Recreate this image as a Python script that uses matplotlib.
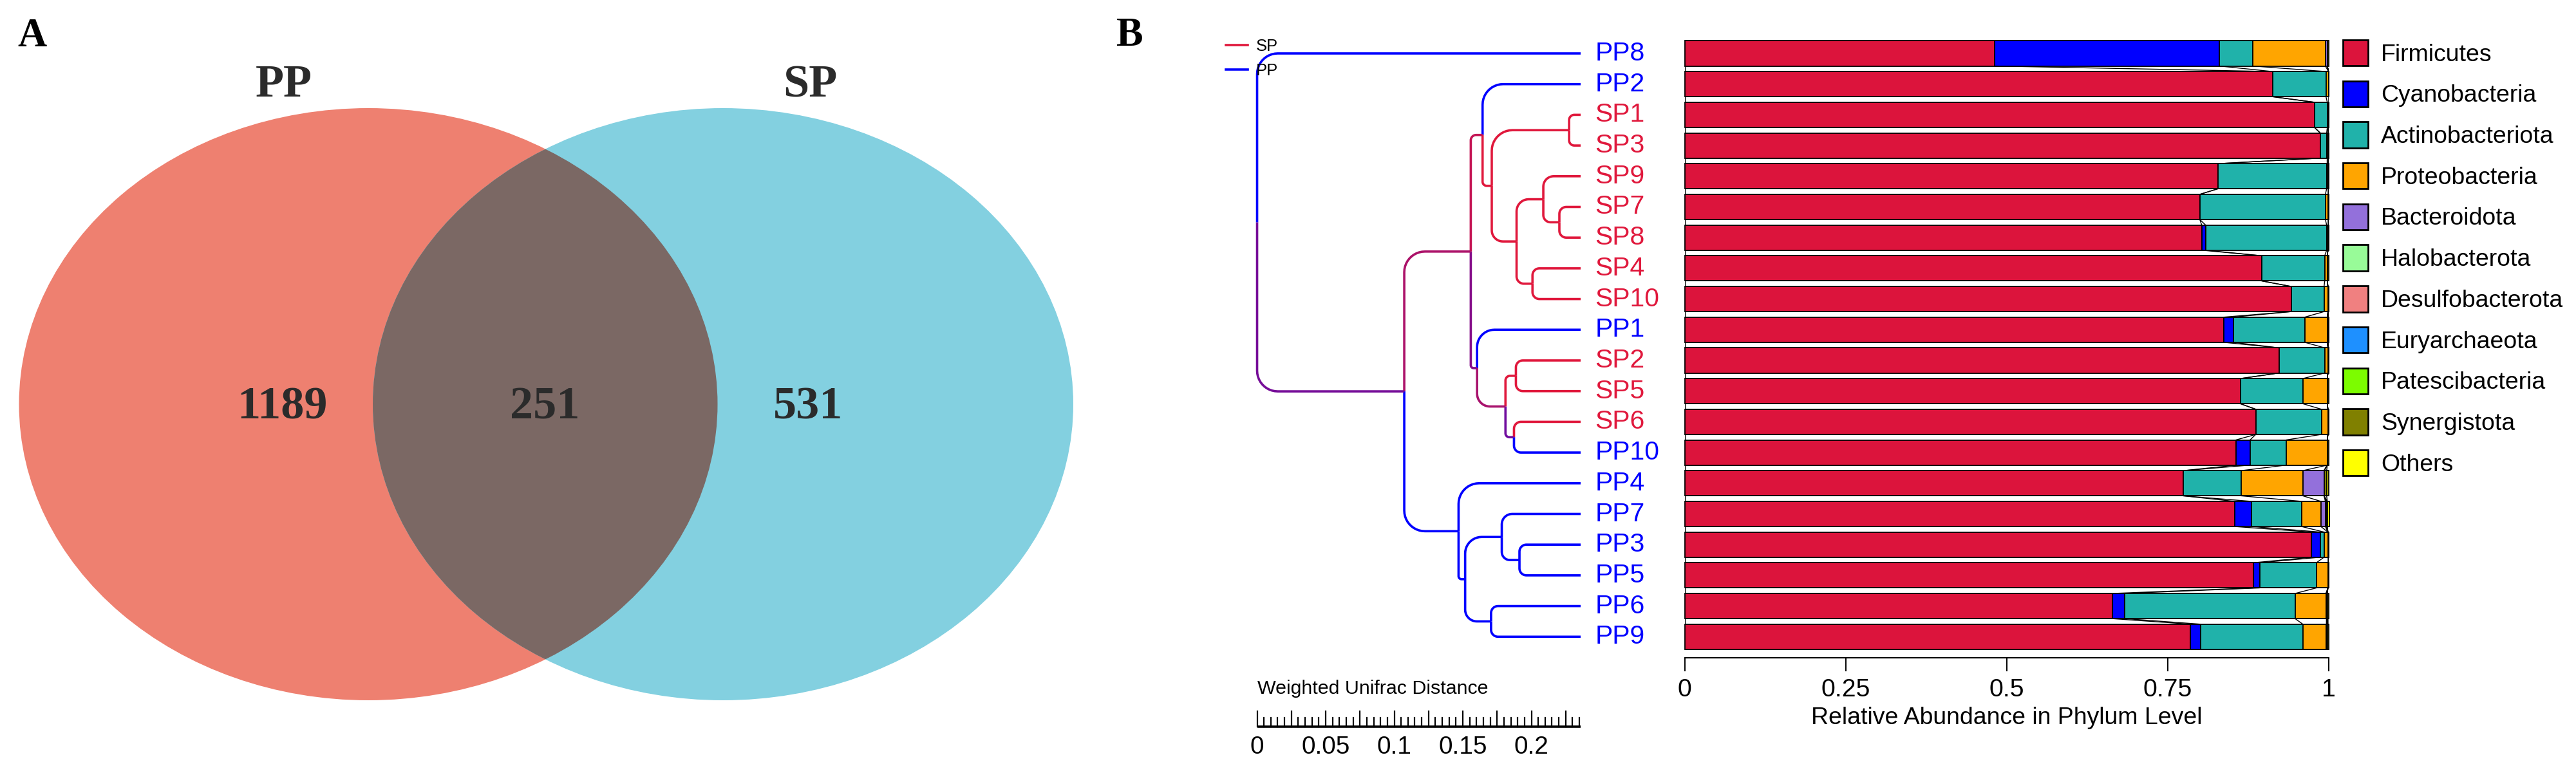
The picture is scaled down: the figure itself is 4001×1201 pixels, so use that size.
import numpy as np
import matplotlib
matplotlib.use('Agg')
import matplotlib.pyplot as plt
from matplotlib.patches import Ellipse
from matplotlib.lines import Line2D
from matplotlib.collections import LineCollection
from matplotlib import font_manager

# ---------------------------------------------------------------------------
# fonts
# ---------------------------------------------------------------------------
installed = {f.name for f in font_manager.fontManager.ttflist}
narrow = 'Liberation Sans Narrow' if 'Liberation Sans Narrow' in installed else 'Liberation Sans'
plt.rcParams['font.family'] = [narrow, 'DejaVu Sans']
serif_bold = dict(family=['Liberation Serif', 'DejaVu Serif'], fontweight='bold')
# the reference uses a condensed sans; without it, shrink sizes so widths match
has_narrow = narrow.endswith('Narrow')


def fsz(size, scale):
    return size if has_narrow else size * scale


# ---------------------------------------------------------------------------
# data - panel A (Venn)
# ---------------------------------------------------------------------------
venn_sets = ['PP', 'SP']
only_pp = 1189
shared = 251
only_sp = 531

# ---------------------------------------------------------------------------
# data - panel B (tree on weighted unifrac + phylum composition)
# ---------------------------------------------------------------------------
leaf_names = ['PP8', 'PP2', 'SP1', 'SP3', 'SP9', 'SP7', 'SP8', 'SP4', 'SP10', 'PP1',
              'SP2', 'SP5', 'SP6', 'PP10', 'PP4', 'PP7', 'PP3', 'PP5', 'PP6', 'PP9']

# merges: children are leaf index (<20) or merge index + 20
merge_left = [2, 5, 4, 7, 22, 20, 1, 10, 12, 27, 9, 26, 16, 15, 18, 33, 14, 31, 0]
merge_right = [3, 6, 21, 8, 23, 24, 25, 11, 13, 28, 29, 30, 17, 32, 19, 34, 35, 36, 37]
merge_height = [0.0084, 0.0155, 0.0272, 0.0351, 0.0467, 0.0648, 0.0715, 0.0472, 0.0486,
                0.0548, 0.0755, 0.0801, 0.0446, 0.0575, 0.0653, 0.0842, 0.0890, 0.1286,
                0.2359]

phyla = ['Firmicutes', 'Cyanobacteria', 'Actinobacteriota', 'Proteobacteria', 'Bacteroidota',
         'Halobacterota', 'Desulfobacterota', 'Euryarchaeota', 'Patescibacteria',
         'Synergistota', 'Others']
phyla_colors = ['#DC143C', '#0000FF', '#20B2AA', '#FFA500', '#9370DB', '#98FB98',
                '#F08080', '#1E90FF', '#7CFC00', '#808000', '#FFFF00']

firmicutes = [0.481, 0.913, 0.978, 0.987, 0.828, 0.800, 0.803, 0.896, 0.942, 0.837,
              0.923, 0.863, 0.887, 0.856, 0.774, 0.854, 0.973, 0.883, 0.664, 0.785]
cyanobacteria = [0.349, 0.000, 0.000, 0.000, 0.000, 0.000, 0.006, 0.000, 0.000, 0.015,
                 0.000, 0.000, 0.000, 0.022, 0.000, 0.026, 0.014, 0.010, 0.019, 0.016]
actinobacteriota = [0.052, 0.083, 0.020, 0.010, 0.169, 0.195, 0.188, 0.098, 0.051, 0.111,
                    0.071, 0.097, 0.102, 0.056, 0.090, 0.078, 0.006, 0.088, 0.265, 0.159]
proteobacteria = [0.113, 0.004, 0.002, 0.002, 0.002, 0.004, 0.002, 0.004, 0.006, 0.035,
                  0.005, 0.038, 0.010, 0.064, 0.096, 0.030, 0.006, 0.018, 0.048, 0.036]
bacteroidota = [0.003, 0.000, 0.000, 0.000, 0.000, 0.000, 0.000, 0.000, 0.000, 0.000,
                0.000, 0.000, 0.000, 0.000, 0.033, 0.007, 0.000, 0.000, 0.000, 0.000]
halobacterota = [0.000, 0.000, 0.000, 0.000, 0.000, 0.000, 0.000, 0.000, 0.000, 0.000,
                 0.000, 0.000, 0.000, 0.000, 0.000, 0.001, 0.000, 0.000, 0.001, 0.001]
desulfobacterota = [0.000, 0.000, 0.000, 0.000, 0.000, 0.000, 0.000, 0.000, 0.000, 0.001,
                    0.000, 0.000, 0.000, 0.000, 0.000, 0.001, 0.000, 0.000, 0.001, 0.001]
euryarchaeota = [0.000, 0.000, 0.000, 0.000, 0.000, 0.000, 0.000, 0.000, 0.000, 0.000,
                 0.000, 0.000, 0.000, 0.000, 0.000, 0.001, 0.000, 0.000, 0.000, 0.000]
patescibacteria = [0.000, 0.000, 0.000, 0.000, 0.000, 0.000, 0.000, 0.000, 0.000, 0.000,
                   0.000, 0.000, 0.000, 0.000, 0.000, 0.000, 0.000, 0.000, 0.000, 0.000]
synergistota = [0.000, 0.000, 0.000, 0.000, 0.000, 0.000, 0.000, 0.000, 0.000, 0.000,
                0.000, 0.000, 0.000, 0.000, 0.004, 0.000, 0.000, 0.000, 0.000, 0.000]
others = [0.002, 0.000, 0.000, 0.001, 0.001, 0.001, 0.001, 0.002, 0.001, 0.001,
          0.001, 0.002, 0.001, 0.002, 0.003, 0.003, 0.001, 0.001, 0.002, 0.002]

abundance = np.array([firmicutes, cyanobacteria, actinobacteriota, proteobacteria,
                      bacteroidota, halobacterota, desulfobacterota, euryarchaeota,
                      patescibacteria, synergistota, others])

# ---------------------------------------------------------------------------
# layout helpers (figure is 4001 x 1201 px)
# ---------------------------------------------------------------------------
W, H = 4001, 1201
fig = plt.figure(figsize=(W / 100, H / 100), dpi=100)


def px_rect(x0, y0, x1, y1):
    return [x0 / W, 1 - y1 / H, (x1 - x0) / W, (y1 - y0) / H]


row0 = 83.0      # pixel centre of first sample row
row_step = 47.7  # pixel distance between rows
ylim_rows = ((H - row0) / row_step, (0 - row0) / row_step)

red = '#E0183C'
blue = '#0000FF'

# ---------------------------------------------------------------------------
# panel A : Venn
# ---------------------------------------------------------------------------
ax_v = fig.add_axes(px_rect(0, 0, 1900, H))
ax_v.set_xlim(0, 1900)
ax_v.set_ylim(H, 0)
ax_v.axis('off')

e_pp = Ellipse((572, 628), 1085, 920, facecolor='#EE8070', edgecolor='none')
e_sp = Ellipse((1123, 628), 1088, 920, facecolor='#83D0E0', edgecolor='none')
ax_v.add_patch(e_pp)
ax_v.add_patch(e_sp)
e_mid = Ellipse((572, 628), 1085, 920, facecolor='#7B6864', edgecolor='none')
ax_v.add_patch(e_mid)
e_mid.set_clip_path(e_sp)

txt_col = '#2B2B2B'
ax_v.text(441, 133, venn_sets[0], ha='center', va='center', fontsize=52, color=txt_col, **serif_bold)
ax_v.text(1258, 133, venn_sets[1], ha='center', va='center', fontsize=52, color=txt_col, **serif_bold)
ax_v.text(439, 633, str(only_pp), ha='center', va='center', fontsize=52, color=txt_col, **serif_bold)
ax_v.text(846, 633, str(shared), ha='center', va='center', fontsize=52, color=txt_col, **serif_bold)
ax_v.text(1255, 633, str(only_sp), ha='center', va='center', fontsize=52, color=txt_col, **serif_bold)

fig.text(27 / W, 1 - 72 / H, 'A', fontsize=45, color='black', va='baseline', **serif_bold)
fig.text(1734 / W, 1 - 71 / H, 'B', fontsize=45, color='black', va='baseline', **serif_bold)

# ---------------------------------------------------------------------------
# panel B : dendrogram
# ---------------------------------------------------------------------------
n_leaf = len(leaf_names)
root_h = merge_height[-1]
px_per_unit = 2130.0
root_px = 2455 - root_h * px_per_unit

ax_d = fig.add_axes(px_rect(1880, 0, 2470, H))
ax_d.set_xlim((1880 - root_px) / px_per_unit, (2470 - root_px) / px_per_unit)
ax_d.set_ylim(*ylim_rows)
ax_d.axis('off')

node_y = [float(i) for i in range(n_leaf)]
node_h = [0.0] * n_leaf
members = [[i] for i in range(n_leaf)]
for a, b, h in zip(merge_left, merge_right, merge_height):
    node_y.append((node_y[a] + node_y[b]) / 2)
    node_h.append(h)
    members.append(members[a] + members[b])

is_sp = np.array([name.startswith('SP') for name in leaf_names])
rgb_red = np.array(matplotlib.colors.to_rgb(red))
rgb_blue = np.array(matplotlib.colors.to_rgb(blue))


def node_colour(node):
    frac = is_sp[members[node]].mean()
    return tuple(frac * rgb_red + (1 - frac) * rgb_blue)


t_arc = np.linspace(0, np.pi / 2, 12)
for k, (a, b, h) in enumerate(zip(merge_left, merge_right, merge_height)):
    node = n_leaf + k
    x_node = root_h - h
    for child in (a, b):
        x_child = root_h - node_h[child]
        dy_px = abs(node_y[child] - node_y[node]) * row_step
        dx_px = (x_child - x_node) * px_per_unit
        r_px = min(32, 0.45 * dy_px, 0.45 * dx_px)
        rx, ry = r_px / px_per_unit, r_px / row_step
        s = np.sign(node_y[child] - node_y[node])
        xs = np.r_[x_node, x_node + rx * (1 - np.cos(t_arc)), x_child]
        ys = np.r_[node_y[node], node_y[child] - s * ry * (1 - np.sin(t_arc)), node_y[child]]
        ax_d.plot(xs, ys, color=node_colour(child), lw=2.6, solid_joinstyle='round',
                  solid_capstyle='butt')

for i, name in enumerate(leaf_names):
    ax_d.annotate(name, xy=(root_h, i), xytext=(16, 0), textcoords='offset points',
                  va='center', ha='left', fontsize=fsz(32, 0.92),
                  color=red if is_sp[i] else blue, annotation_clip=False)

# group legend
grp_handles = [Line2D([], [], color=red, lw=2.6), Line2D([], [], color=blue, lw=2.6)]
fs_grp = fsz(21, 0.88)
ax_d.legend(grp_handles, ['SP', 'PP'], loc='upper left',
            bbox_to_anchor=(1904 / W, 1 - 60 / H), bbox_transform=fig.transFigure,
            frameon=False, fontsize=fs_grp, handlelength=34 / (fs_grp * 100 / 72),
            handletextpad=13 / (fs_grp * 100 / 72), labelspacing=0.55, borderpad=0,
            borderaxespad=0)

# distance scale bar
bar_y = (1129 - row0) / row_step
ax_d.plot([0, root_h], [bar_y, bar_y], color='black', lw=2.6, solid_capstyle='butt')
for t in np.arange(0, root_h + 1e-9, 0.005):
    major = abs(t / 0.025 - round(t / 0.025)) < 1e-6
    tick_len = (24 if major else 14) / row_step
    ax_d.plot([t, t], [bar_y, bar_y - tick_len], color='black', lw=1.6)
for t in [0, 0.05, 0.1, 0.15, 0.2]:
    ax_d.text(t, (1161 - row0) / row_step, f'{t:g}', ha='center', va='center',
              fontsize=fsz(31, 0.9))
ax_d.text(0, (1078 - row0) / row_step, 'Weighted Unifrac Distance', ha='left',
          va='baseline', fontsize=fsz(26, 0.84))

# ---------------------------------------------------------------------------
# panel B : stacked bars
# ---------------------------------------------------------------------------
ax_b = fig.add_axes(px_rect(2616.7, 0, 3616.7, H))
ax_b.set_xlim(0, 1)
ax_b.set_ylim(*ylim_rows)

rows = np.arange(n_leaf)
bar_h = 0.82
left = np.zeros(n_leaf)
cum = []
for vals, name, col in zip(abundance, phyla, phyla_colors):
    ax_b.barh(rows, vals, left=left, height=bar_h, color=col, edgecolor='black',
              linewidth=1.3, label=name, clip_on=False)
    left = left + vals
    cum.append(left.copy())

# link lines between neighbouring bars
segs = []
for c in [np.zeros(n_leaf)] + cum[:-1]:
    for i in range(n_leaf - 1):
        segs.append([(c[i], i + bar_h / 2), (c[i + 1], i + 1 - bar_h / 2)])
ax_b.add_collection(LineCollection(segs, colors='black', linewidths=1.0))

for s in ['top', 'right', 'left']:
    ax_b.spines[s].set_visible(False)
ax_b.spines['bottom'].set_position(('data', (1022 - row0) / row_step))
ax_b.spines['bottom'].set_linewidth(1.4)
ax_b.set_yticks([])
ax_b.set_xticks([0, 0.25, 0.5, 0.75, 1])
ax_b.set_xticklabels(['0', '0.25', '0.5', '0.75', '1'])
ax_b.tick_params(axis='x', direction='out', length=15, width=1.4,
                 labelsize=fsz(32, 0.88), pad=8)
ax_b.set_xlabel('Relative Abundance in Phylum Level', fontsize=fsz(32, 0.84))
ax_b.xaxis.set_label_coords(0.5, (H - 1098) / H)
ax_b.patch.set_visible(False)

fs_leg = fsz(32, 0.84)
fs_leg_px = fs_leg * 100 / 72
handles, labels = ax_b.get_legend_handles_labels()
leg = fig.legend(handles, labels, loc='upper left',
                 bbox_to_anchor=(3639 / W, 1 - 62 / H), frameon=False, fontsize=fs_leg,
                 handlelength=39 / fs_leg_px, handleheight=48 / fs_leg_px,
                 handletextpad=20 / fs_leg_px, labelspacing=23 / fs_leg_px,
                 borderpad=0, borderaxespad=0)
for p in leg.get_patches():
    p.set_linewidth(2.0)

fig.savefig('out.png', dpi=100)
